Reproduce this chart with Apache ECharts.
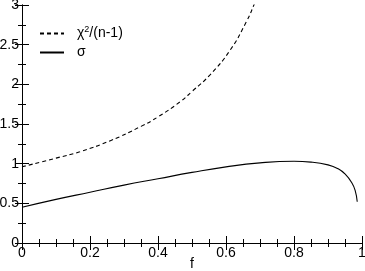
<!DOCTYPE html>
<html><head><meta charset="utf-8">
<script src="https://cdn.jsdelivr.net/npm/echarts@6/dist/echarts.min.js"></script>
<style>html,body{margin:0;padding:0;background:#fff}#c{width:365px;height:271px}</style>
</head><body><div id="c"></div>
<script>
var chiF   = [0, 0.1, 0.17, 0.26, 0.35, 0.4, 0.465, 0.5, 0.553, 0.612, 0.66, 0.682, 0.7];
var chiV   = [0.96, 1.07, 1.15, 1.29, 1.47, 1.59, 1.78, 1.91, 2.12, 2.43, 2.79, 3.0, 3.2];
var sigF   = [0, 0.1, 0.2, 0.3, 0.4, 0.5, 0.6, 0.7, 0.8, 0.85, 0.9, 0.93, 0.95, 0.97, 0.98, 0.986];
var sigV   = [0.45, 0.55, 0.64, 0.73, 0.81, 0.89, 0.96, 1.01, 1.03, 1.02, 0.985, 0.935, 0.87, 0.76, 0.66, 0.52];
var seriesNames = ['chi', 'sigma'];
var xAxisName = 'f';

function pairs(xs, ys){ return xs.map(function(x,i){ return [x, ys[i]]; }); }
var font = 'Liberation Sans, Arial, sans-serif';
var chart = echarts.init(document.getElementById('c'));
function mkAxis(isX, pos, showLabel){
  return {
    type:'value', position:pos,
    min:0, max: isX ? 1 : 3, interval: isX ? 0.2 : 0.5,
    axisLine:{show:true, lineStyle:{color:'#000', width:1}},
    axisTick:{show:true, inside:true, length:7, lineStyle:{color:'#000', width:1}},
    minorTick:{show:true, splitNumber: isX ? 4 : 2, length:4, lineStyle:{color:'#000', width:1}},
    splitLine:{show:false},
    axisLabel: showLabel ? {show:true, fontFamily:font, fontSize:14, color:'#000', margin:3} : {show:false}
  };
}
chart.setOption({
  animation:false,
  grid:{left:22, right:3, top:5, bottom:28, outerBoundsMode:'none'},
  graphic:[{type:'text', x:192, y:264, style:{text:xAxisName, font:'14px ' + font, fill:'#000', align:'center', verticalAlign:'middle'}}],
  legend:{
    left:34, top:20, orient:'vertical', itemWidth:24, itemHeight:10, itemGap:5,
    data:seriesNames,
    itemStyle:{opacity:0},
    formatter:function(n){ return n==='chi' ? '{a|χ}{s|2}{a|/(n-1)}' : '{a|σ}'; },
    textStyle:{fontFamily:font, fontSize:14, color:'#000', padding:[0,0,0,8],
      rich:{a:{fontFamily:font, fontSize:14, color:'#000'}, s:{fontFamily:font, fontSize:9, color:'#000', verticalAlign:'top', padding:[0,0,8,0]}}}
  },
  xAxis:[ mkAxis(true, 'bottom', true), mkAxis(true, 'top', false) ],
  yAxis:[ mkAxis(false, 'left', true), mkAxis(false, 'right', false) ],
  series:[
    {name:'chi', type:'line', data:pairs(chiF, chiV), smooth:true, symbol:'none', clip:true,
      itemStyle:{color:'#000'}, lineStyle:{color:'#000', width:1.1, type:[4,3]}},
    {name:'sigma', type:'line', data:pairs(sigF, sigV), smooth:true, symbol:'none', clip:true,
      itemStyle:{color:'#000'}, lineStyle:{color:'#000', width:1.1}}
  ]
});
</script></body></html>
